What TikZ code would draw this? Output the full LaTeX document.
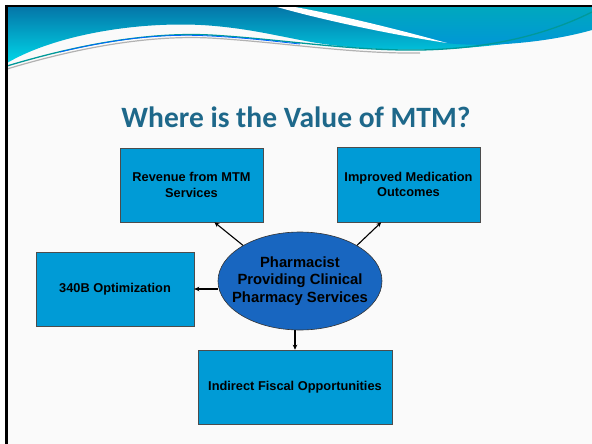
\documentclass[tikz,border=0pt]{standalone}
\usepackage{fontspec}
\setmainfont{Liberation Sans}
\newfontfamily\titlefont{Carlito}
\usetikzlibrary{arrows.meta,calc,shapes.geometric}
\definecolor{boxblue}{RGB}{0,155,214}
\definecolor{ellblue}{RGB}{24,102,192}
\definecolor{titleteal}{RGB}{30,104,138}
\definecolor{pagebg}{RGB}{250,250,250}
\definecolor{hdtop}{RGB}{4,118,168}
\definecolor{hdbot}{RGB}{0,214,232}
\definecolor{rttop}{RGB}{0,168,190}
\definecolor{rtbot}{RGB}{0,150,216}
\tikzset{
  valbox/.style={draw=black!70, line width=0.6pt, fill=boxblue, align=center,
    font=\bfseries\fontsize{12.8}{15.5}\selectfont, inner sep=2pt},
  hub/.style={ellipse, draw=black!80, line width=0.6pt, fill=ellblue, inner sep=0pt,
    minimum width=164pt, minimum height=98pt},
  hubtext/.style={align=center, font=\bfseries\fontsize{14.8}{17.5}\selectfont, inner sep=0pt},
  arr/.style={draw=black, line width=1.1pt, -{Stealth[length=5pt,width=4.5pt]}},
  titletext/.style={font=\titlefont\bfseries\fontsize{29.5}{34}\selectfont, text=titleteal}
}
\begin{document}
\begin{tikzpicture}[x=1pt,y=-1pt]
\useasboundingbox (0,0) rectangle (592,444);
\fill[white] (0,0) rectangle (592,444);
\fill[pagebg] (7,7) rectangle (592,444);
% header wave
\shade[top color=hdtop, bottom color=hdbot]
  (7,7) -- (592,7) -- (592,28)
  .. controls (500,50) and (420,53) .. (350,47)
  .. controls (300,43) and (270,31) .. (215,26)
  .. controls (150,20) and (60,32) .. (7,63) -- cycle;
\shade[top color=rttop, bottom color=rtbot]
  (295,7) -- (592,7) -- (592,30)
  .. controls (550,42) and (490,48) .. (445,43)
  .. controls (400,30) and (340,15) .. (295,7) -- cycle;
\fill[white]
  (277,7) -- (295,7)
  .. controls (340,15) and (400,30) .. (447,43)
  .. controls (400,36) and (330,22) .. (277,7) -- cycle;
\draw[black!30, line width=1.2pt]
  (7,69) .. controls (80,47) and (150,35) .. (210,38)
  .. controls (280,42) and (350,54) .. (420,53);
\draw[teal!80!cyan, line width=1.3pt]
  (7,66) .. controls (80,44) and (150,32) .. (210,35)
  .. controls (280,39) and (350,51) .. (420,50)
  .. controls (480,49) and (540,38) .. (592,12);
\draw[blue!60!cyan, line width=0.8pt]
  (60,52) .. controls (110,40) and (160,33) .. (210,36)
  .. controls (250,38) and (280,42) .. (300,44);
% border
\draw[black, line width=2.4pt] (6.5,5) -- (6.5,444);
\draw[black, line width=2pt] (5,6) -- (592,6);
% title
\node[titletext, anchor=base] (title) at (296,127) {Where is the Value of MTM?};
% nodes
\node[valbox, minimum width=143pt, minimum height=74pt] (b1) at (191.5,185) {Revenue from MTM\\Services};
\node[valbox, minimum width=143pt, minimum height=75pt] (b2) at (408.5,184.5) {Improved Medication\\Outcomes};
\node[valbox, minimum width=158pt, minimum height=74pt] (b3) at (115,289) {340B Optimization};
\node[valbox, minimum width=194pt, minimum height=74pt] (b4) at (295,387) {Indirect Fiscal Opportunities};
\node[hub] (ell) at (300,281) {};
\node[hubtext] (elltext) at (ell.center) {Pharmacist\\Providing Clinical\\Pharmacy Services};
% connectors
\draw[arr] (ell.148) -- ($(b1.south west)!0.66!(b1.south east)$);
\draw[arr] (ell.32) -- ($(b2.south west)!0.31!(b2.south east)$);
\draw[arr] (ell.west |- b3.east) -- (b3.east);
\draw[arr] (ell.south -| b4.north) -- (b4.north);
\end{tikzpicture}
\end{document}
